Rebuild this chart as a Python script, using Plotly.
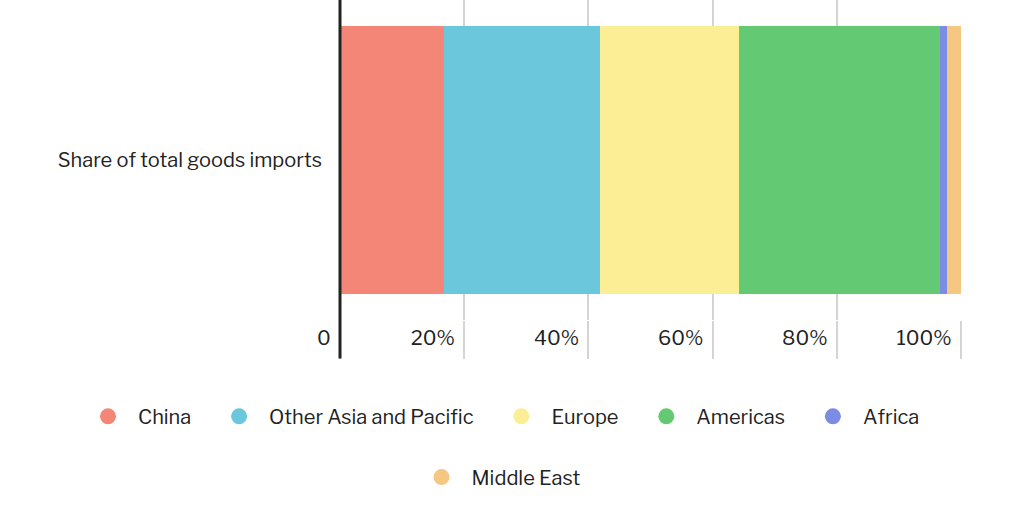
import plotly.graph_objects as go

category = ["Share of total goods imports"]
regions = ["China", "Other Asia and Pacific", "Europe", "Americas", "Africa", "Middle East"]
shares = [16.7, 25.1, 22.4, 32.4, 1.1, 2.3]
colors = ["#f48677", "#6bc7db", "#fbee95", "#64c973", "#7c8be3", "#f6c783"]
tickvals = [0, 20, 40, 60, 80, 100]
ticktext = ["0  ", "20%  ", "40%  ", "60%  ", "80%  ", "100%  "]

fig = go.Figure()
for r, s, c in zip(regions, shares, colors):
    fig.add_trace(go.Bar(y=category, x=[s], orientation="h", marker=dict(color=c, line=dict(width=0)),
                         name=r, showlegend=False, width=0.84))
for i, (r, c) in enumerate(zip(regions, colors)):
    fig.add_trace(go.Scatter(x=[None], y=[None], mode="markers", name=r + "   ",
                             legend="legend" if i < 5 else "legend2",
                             marker=dict(color=c, size=16, symbol="circle")))

cx = (505 - 340) / 621
lx = (78 - 340) / 621
fig.update_layout(
    barmode="stack", width=1024, height=512,
    margin=dict(l=340, r=63, t=0, b=192),
    plot_bgcolor="white", paper_bgcolor="white",
    font=dict(family="Libre Franklin, Lato, sans-serif", size=20, color="#222"),
    xaxis=dict(range=[0, 100], tickvals=tickvals, ticktext=ticktext, showgrid=True,
               gridcolor="#d4d4d4", gridwidth=1.5, ticks="outside", ticklen=38,
               tickcolor="#d4d4d4", tickwidth=1.5, ticklabelposition="outside left",
               zeroline=False, fixedrange=True, automargin=False),
    yaxis=dict(showgrid=False, ticks="", range=[-0.5, 0.5], automargin=False,
               ticksuffix="    "),
    legend=dict(orientation="h", x=lx, xanchor="left", y=-0.24,
                yanchor="top", font=dict(size=20), itemwidth=50, traceorder="normal"),
    legend2=dict(orientation="h", x=cx, xanchor="center", y=-0.43,
                 yanchor="top", font=dict(size=20), itemwidth=50, traceorder="normal"),
    shapes=[dict(type="line", xref="paper", yref="paper", x0=0, x1=0, y0=-0.12, y1=1,
                 layer="above", line=dict(color="#222", width=3))],
)
fig.write_html("out.html", config={"displayModeBar": False},
               post_script="document.body.style.margin='0';window.dispatchEvent(new Event('resize'));")
